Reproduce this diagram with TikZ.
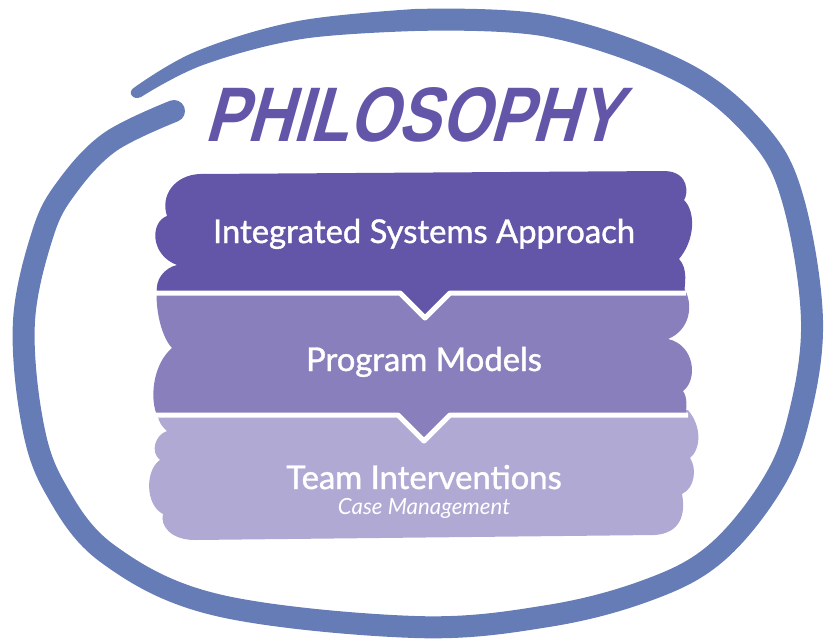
\documentclass[tikz,border=0pt]{standalone}
\usepackage{fontspec}
\setmainfont{Lato}[FakeBold=1.2]
\newfontfamily\lightfont{Lato}
\newfontfamily\brushfont{Liberation Sans Bold}[FakeSlant=0.28,FakeStretch=0.82]
\definecolor{ringblue}{RGB}{102,124,183}
\definecolor{bandtop}{RGB}{99,86,168}
\definecolor{bandmid}{RGB}{137,127,188}
\definecolor{bandlow}{RGB}{176,169,212}
\tikzset{
  ring/.style={draw=ringblue, line width=6.6mm, line cap=round},
  sepline/.style={draw=white, line width=1.5mm, line join=round},
  bandtext/.style={text=white, anchor=base, inner sep=0pt, font=\fontsize{28}{32}\selectfont},
  subtext/.style={text=white, anchor=base, inner sep=0pt, font=\lightfont\fontsize{19}{22}\selectfont\itshape},
  titletext/.style={text=bandtop, anchor=base, inner sep=0pt, font=\brushfont\fontsize{66}{72}\selectfont},
}
\begin{document}
\begin{tikzpicture}[x=0.3mm, y=-0.3mm]
\useasboundingbox (0,0) rectangle (830,642);
\fill[ringblue] plot[smooth, tension=0.6] coordinates {(135,87) (197,51) (298,21) (415,9)}
  -- plot[smooth, tension=0.6] coordinates {(415,31) (302,39) (203,65) (141,97)}
  .. controls (133,101) and (126,92) .. cycle;
\draw[ring] plot[smooth, tension=0.6] coordinates {(415,20) (548,26) (682,72) (758,133) (793,200) (812,321) (798,421) (770,488) (715,554) (648,590) (548,616) (415,627) (217,605) (108,554) (55,488) (32,421) (24,321) (43,233) (67,187) (110,142) (174,111)};
\fill[bandlow] (157,410) -- (688,410)
  .. controls (703,428) and (700,450) .. (690,458)
  .. controls (697,468) and (695,488) .. (682,494)
  .. controls (686,515) and (680,533) .. (655,535)
  -- (195,540)
  .. controls (170,540) and (160,525) .. (163,514)
  .. controls (145,505) and (145,470) .. (160,460)
  .. controls (150,452) and (155,435) .. (167,431)
  .. controls (160,425) and (157,418) .. cycle;
\fill[bandmid] (157,288) -- (684,288)
  .. controls (694,305) and (690,330) .. (668,339)
  .. controls (695,345) and (698,380) .. (683,391)
  .. controls (688,398) and (686,408) .. (686,415)
  -- (450,415) -- (424,441) -- (398,415) -- (157,415)
  .. controls (150,400) and (152,365) .. (172,348)
  .. controls (160,335) and (155,305) .. cycle;
\fill[bandtop] (200,174) -- (665,171)
  .. controls (690,172) and (688,195) .. (684,200)
  .. controls (696,212) and (695,240) .. (679,259)
  .. controls (688,268) and (685,285) .. (684,293)
  -- (450,293) -- (425,318) -- (400,293) -- (157,293)
  .. controls (155,280) and (164,268) .. (177,265)
  .. controls (150,255) and (150,222) .. (167,216)
  .. controls (160,195) and (175,175) .. cycle;
\draw[sepline] (155,293) -- (400,293) -- (425,318) -- (450,293) -- (686,293);
\draw[sepline] (155,415) -- (398,415) -- (424,441) -- (450,415) -- (688,415);
\node[titletext] (title) at (412,141) {PHILOSOPHY};
\node[bandtext] (isa) at (424,243) {Integrated Systems Approach};
\node[bandtext] (pm) at (424,371) {Program Models};
\node[bandtext] (ti) at (424,489) {Team Interventions};
\node[subtext] (cm) at (424,514) {Case Management};
\end{tikzpicture}
\end{document}
